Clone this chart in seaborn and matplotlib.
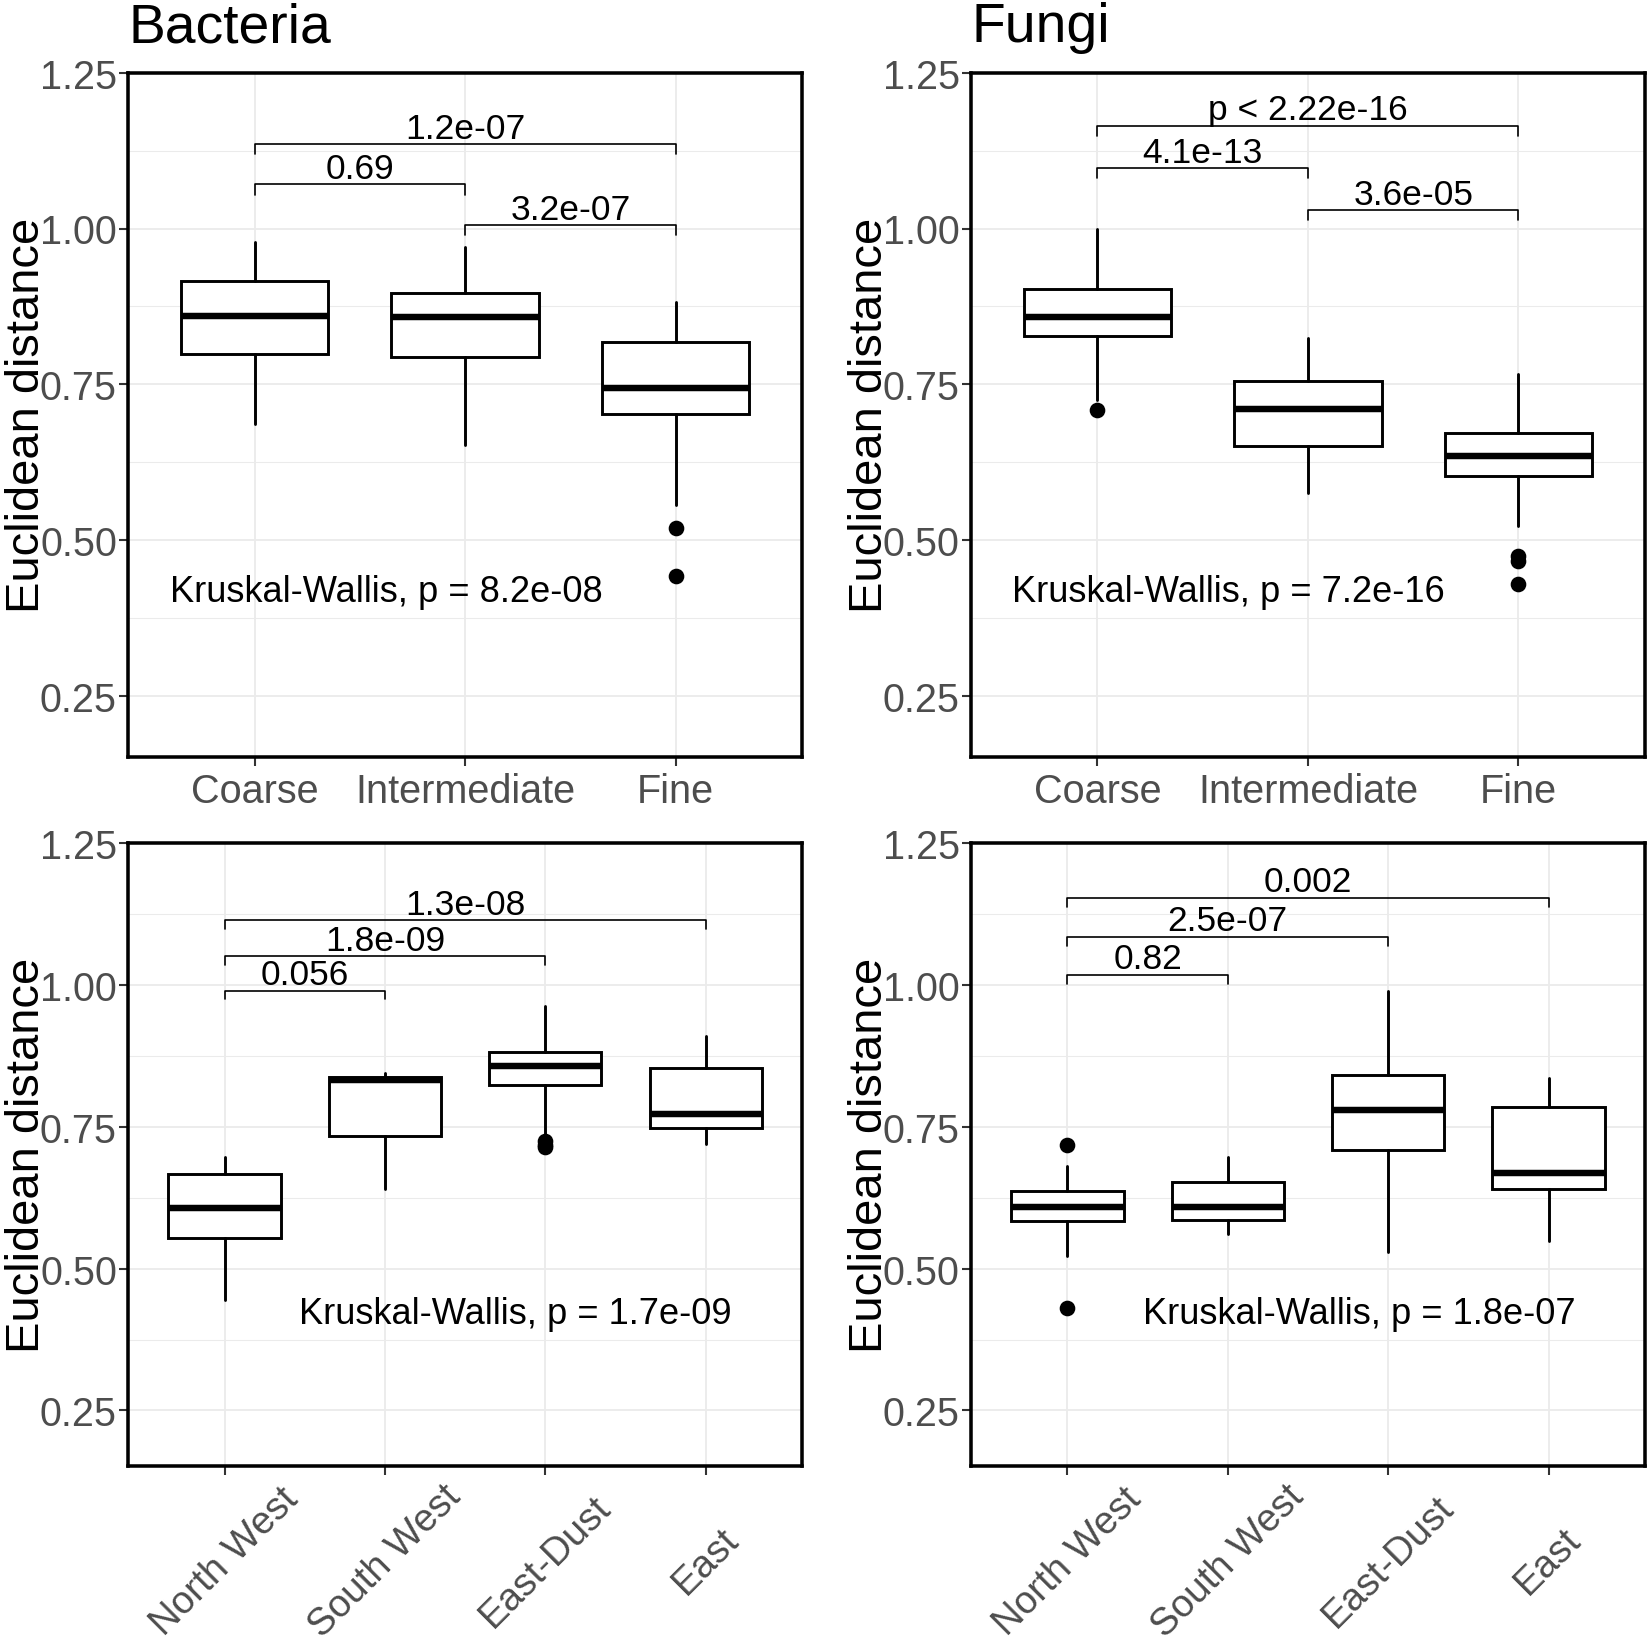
import matplotlib
matplotlib.use("Agg")
import matplotlib.pyplot as plt
import seaborn as sns
from matplotlib.ticker import FixedLocator

# groups
size_groups = ["Coarse", "Intermediate", "Fine"]
region_groups = ["North West", "South West", "East-Dust", "East"]

# Bacteria by particle size
bac_size_whislo = [0.687, 0.652, 0.557]
bac_size_q1 = [0.798, 0.794, 0.703]
bac_size_med = [0.860, 0.858, 0.744]
bac_size_q3 = [0.916, 0.897, 0.818]
bac_size_whishi = [0.978, 0.970, 0.882]
bac_size_fliers = [[], [], [0.519, 0.442]]

# Fungi by particle size
fun_size_whislo = [0.725, 0.576, 0.522]
fun_size_q1 = [0.827, 0.651, 0.602]
fun_size_med = [0.858, 0.711, 0.635]
fun_size_q3 = [0.903, 0.755, 0.672]
fun_size_whishi = [1.000, 0.824, 0.766]
fun_size_fliers = [[0.708], [], [0.474, 0.466, 0.429]]

# Bacteria by region
bac_reg_whislo = [0.445, 0.640, 0.734, 0.720]
bac_reg_q1 = [0.554, 0.734, 0.823, 0.747]
bac_reg_med = [0.607, 0.832, 0.858, 0.772]
bac_reg_q3 = [0.667, 0.837, 0.882, 0.854]
bac_reg_whishi = [0.697, 0.844, 0.963, 0.910]
bac_reg_fliers = [[], [], [0.725, 0.718, 0.715], []]

# Fungi by region
fun_reg_whislo = [0.523, 0.561, 0.530, 0.548]
fun_reg_q1 = [0.584, 0.585, 0.709, 0.640]
fun_reg_med = [0.608, 0.609, 0.780, 0.668]
fun_reg_q3 = [0.636, 0.652, 0.841, 0.784]
fun_reg_whishi = [0.681, 0.696, 0.990, 0.836]
fun_reg_fliers = [[0.718, 0.430], [], [], []]

# pairwise comparisons (group index pairs, bracket height, label)
bac_size_pairs = [(0, 2), (0, 1), (1, 2)]
bac_size_brk_y = [1.136, 1.071, 1.006]
bac_size_brk_lab = ["1.2e-07", "0.69", "3.2e-07"]

fun_size_pairs = [(0, 2), (0, 1), (1, 2)]
fun_size_brk_y = [1.165, 1.097, 1.029]
fun_size_brk_lab = ["p < 2.22e-16", "4.1e-13", "3.6e-05"]

bac_reg_pairs = [(0, 3), (0, 2), (0, 1)]
bac_reg_brk_y = [1.114, 1.051, 0.990]
bac_reg_brk_lab = ["1.3e-08", "1.8e-09", "0.056"]

fun_reg_pairs = [(0, 3), (0, 2), (0, 1)]
fun_reg_brk_y = [1.154, 1.085, 1.018]
fun_reg_brk_lab = ["0.002", "2.5e-07", "0.82"]

kw_labels = ["Kruskal-Wallis, p = 8.2e-08", "Kruskal-Wallis, p = 7.2e-16",
             "Kruskal-Wallis, p = 1.7e-09", "Kruskal-Wallis, p = 1.8e-07"]
kw_x = [-0.40, -0.406, 0.467, 0.471]
kw_y = [0.418, 0.418, 0.420, 0.420]

titles = ["Bacteria", "Fungi", "", ""]

sns.set_theme(style="whitegrid")
plt.rcParams["font.family"] = ["Liberation Sans", "DejaVu Sans"]


def box_stats(whislo, q1, med, q3, whishi, fliers):
    return [dict(whislo=a, q1=b, med=c, q3=d, whishi=e, fliers=f)
            for a, b, c, d, e, f in zip(whislo, q1, med, q3, whishi, fliers)]


def draw_panel(ax, groups, stats, pairs, brk_y, brk_lab, tip, kw, kwx, kwy,
               title, rotate):
    n = len(groups)
    ax.bxp(stats, positions=list(range(n)), widths=0.7, showcaps=False,
           patch_artist=True, manage_ticks=False,
           boxprops=dict(facecolor="white", edgecolor="black", linewidth=1.4),
           medianprops=dict(color="black", linewidth=3.1),
           whiskerprops=dict(color="black", linewidth=1.4),
           flierprops=dict(marker="o", markerfacecolor="black",
                           markeredgecolor="black", markersize=6.5))
    for (i, j), y, lab in zip(pairs, brk_y, brk_lab):
        ax.plot([i, i, j, j], [y - tip, y, y, y - tip], color="black", lw=0.8)
        ax.annotate(lab, xy=((i + j) / 2, y), xytext=(0, 3),
                    textcoords="offset points", ha="center", va="baseline",
                    fontsize=17, color="black")
    ax.text(kwx, kwy, kw, ha="left", va="center", fontsize=17.4, color="black")

    ax.set_xlim(-0.6, n - 0.4)
    ax.set_ylim(0.152, 1.25)
    ax.set_xticks(range(n))
    ax.set_xticklabels(groups)
    ax.set_yticks([0.25, 0.50, 0.75, 1.00, 1.25])
    ax.set_yticklabels(["0.25", "0.50", "0.75", "1.00", "1.25"])
    ax.yaxis.set_minor_locator(FixedLocator([0.375, 0.625, 0.875, 1.125]))

    ax.set_axisbelow(True)
    ax.grid(False)
    ax.grid(which="major", color="#EBEBEB", lw=0.9)
    ax.grid(which="minor", axis="y", color="#EBEBEB", lw=0.5)
    for sp in ax.spines.values():
        sp.set_visible(True)
        sp.set_color("black")
        sp.set_linewidth(1.7)

    ax.tick_params(which="major", bottom=True, left=True, direction="out",
                   length=4.5, width=1.0, color="#333333",
                   labelcolor="#4D4D4D", labelsize=19)
    ax.tick_params(axis="y", pad=1)
    ax.tick_params(which="minor", length=0)
    if rotate:
        ax.tick_params(axis="x", pad=41, labelsize=18.5)
        plt.setp(ax.get_xticklabels(), rotation=45, ha="center", va="center")
    else:
        ax.tick_params(axis="x", pad=3)

    ax.set_ylabel("Euclidean distance", fontsize=22.6, color="black")
    ax.yaxis.set_label_coords(-0.118, 0.5)
    if title:
        ax.set_title(title, loc="left", fontsize=26.5, pad=15, color="black")


fig = plt.figure(figsize=(11, 10.973), dpi=150)
w = 0.4082
positions = [
    [0.0778, 0.5396, w, 0.4156],
    [0.5886, 0.5396, w, 0.4156],
    [0.0778, 0.1087, w, 0.3785],
    [0.5886, 0.1087, w, 0.3785],
]
panels = [
    (size_groups, box_stats(bac_size_whislo, bac_size_q1, bac_size_med,
                            bac_size_q3, bac_size_whishi, bac_size_fliers),
     bac_size_pairs, bac_size_brk_y, bac_size_brk_lab, 0.017, False),
    (size_groups, box_stats(fun_size_whislo, fun_size_q1, fun_size_med,
                            fun_size_q3, fun_size_whishi, fun_size_fliers),
     fun_size_pairs, fun_size_brk_y, fun_size_brk_lab, 0.016, False),
    (region_groups, box_stats(bac_reg_whislo, bac_reg_q1, bac_reg_med,
                              bac_reg_q3, bac_reg_whishi, bac_reg_fliers),
     bac_reg_pairs, bac_reg_brk_y, bac_reg_brk_lab, 0.015, True),
    (region_groups, box_stats(fun_reg_whislo, fun_reg_q1, fun_reg_med,
                              fun_reg_q3, fun_reg_whishi, fun_reg_fliers),
     fun_reg_pairs, fun_reg_brk_y, fun_reg_brk_lab, 0.017, True),
]

for k, (pos, p) in enumerate(zip(positions, panels)):
    ax = fig.add_axes(pos)
    groups, stats, pairs, by, bl, tip, rot = p
    draw_panel(ax, groups, stats, pairs, by, bl, tip, kw_labels[k], kw_x[k],
               kw_y[k], titles[k], rot)

fig.savefig("out.png", dpi=150, facecolor="white")
